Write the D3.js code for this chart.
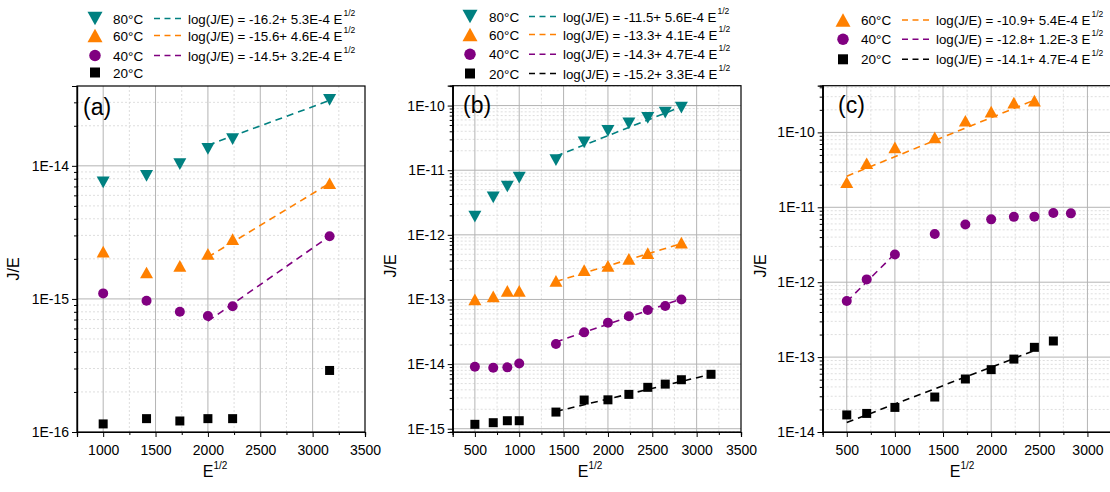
<!DOCTYPE html>
<html><head><meta charset="utf-8">
<script src="https://cdn.jsdelivr.net/npm/d3@7"></script>
<style>
body{margin:0;background:#fff;}
svg{display:block;font-family:Arial,"Liberation Sans",sans-serif;}
</style></head>
<body>
<svg id="chart" width="1110" height="492"></svg>
<script>
// ---------- DATA ----------
// Panel (a)
const xA = [1000, 1414, 1732, 2000, 2236, 3162];
const a80 = [7.5e-15, 8.4e-15, 1.03e-14, 1.34e-14, 1.59e-14, 3.13e-14];
const a60 = [2.27e-15, 1.58e-15, 1.77e-15, 2.18e-15, 2.81e-15, 7.4e-15];
const a40 = [1.10e-15, 0.97e-15, 0.80e-15, 0.745e-15, 0.88e-15, 2.96e-15];
const a20 = [1.15e-16, 1.26e-16, 1.21e-16, 1.26e-16, 1.26e-16, 2.9e-16];
const fitA80 = [[2000, 1.43e-14], [3162, 3.1e-14]];
const fitA60 = [[2000, 2.06e-15], [3162, 7.4e-15]];
const fitA40 = [[2000, 0.68e-15], [3162, 2.96e-15]];
const eqA = ["log(J/E) = -16.2+ 5.3E-4 E", "log(J/E) = -15.6+ 4.6E-4 E", "log(J/E) = -14.5+ 3.2E-4 E"];
const xTicksA = [1000, 1500, 2000, 2500, 3000, 3500];
const yTicksA = [1e-16, 1e-15, 1e-14];

// Panel (b)
const xB = [500, 707, 866, 1000, 1414, 1732, 2000, 2236, 2449, 2646, 2828];
const b80 = [1.92e-12, 3.8e-12, 5.6e-12, 7.7e-12, 1.43e-11, 2.7e-11, 4.06e-11, 5.3e-11, 6.45e-11, 7.8e-11, 9.3e-11];
const xB60 = [500, 707, 866, 1000, 1414, 1732, 2000, 2236, 2449, 2828];
const b60 = [1.0e-13, 1.12e-13, 1.36e-13, 1.36e-13, 1.94e-13, 2.84e-13, 3.3e-13, 4.25e-13, 5.2e-13, 7.6e-13];
const b40 = [9.1e-15, 8.8e-15, 8.9e-15, 1.02e-14, 2.04e-14, 3.1e-14, 4.36e-14, 5.5e-14, 6.85e-14, 7.9e-14, 1.0e-13];
const xB20 = [500, 707, 866, 1000, 1414, 1732, 2000, 2236, 2449, 2646, 2828, 3162];
const b20 = [1.17e-15, 1.24e-15, 1.33e-15, 1.33e-15, 1.81e-15, 2.78e-15, 2.8e-15, 3.4e-15, 4.37e-15, 4.9e-15, 5.73e-15, 6.95e-15];
const fitB80 = [[1414, 1.65e-11], [2828, 9.6e-11]];
const fitB60 = [[1414, 1.9e-13], [2828, 7.3e-13]];
const fitB40 = [[1414, 2.2e-14], [2828, 1.02e-13]];
const fitB20 = [[1414, 1.85e-15], [3162, 6.95e-15]];
const eqB = ["log(J/E) = -11.5+ 5.6E-4 E", "log(J/E) = -13.3+ 4.1E-4 E", "log(J/E) = -14.3+ 4.7E-4 E", "log(J/E) = -15.2+ 3.3E-4 E"];
const xTicksB = [500, 1000, 1500, 2000, 2500, 3000, 3500];
const yTicksB = [1e-15, 1e-14, 1e-13, 1e-12, 1e-11, 1e-10];

// Panel (c)
const xC60 = [500, 707, 1000, 1414, 1732, 2000, 2236, 2449];
const c60 = [2.16e-11, 3.87e-11, 6.3e-11, 8.6e-11, 1.43e-10, 1.89e-10, 2.49e-10, 2.65e-10];
const xC40 = [500, 707, 1000, 1414, 1732, 2000, 2236, 2449, 2646, 2828];
const c40 = [5.6e-13, 1.09e-12, 2.34e-12, 4.4e-12, 5.9e-12, 6.9e-12, 7.45e-12, 7.5e-12, 8.4e-12, 8.3e-12];
const xC20 = [500, 707, 1000, 1414, 1732, 2000, 2236, 2449, 2646];
const c20 = [1.69e-14, 1.77e-14, 2.13e-14, 2.93e-14, 5.1e-14, 6.8e-14, 9.4e-14, 1.35e-13, 1.64e-13];
const fitC60 = [[500, 2.6e-11], [2449, 2.7e-10]];
const fitC40 = [[500, 5.5e-13], [1000, 2.4e-12]];
const fitC20 = [[500, 1.34e-14], [2449, 1.22e-13]];
const eqC = ["log(J/E) = -10.9+ 5.4E-4 E", "log(J/E) = -12.8+ 1.2E-3 E", "log(J/E) = -14.1+ 4.7E-4 E"];
const xTicksC = [500, 1000, 1500, 2000, 2500, 3000];
const yTicksC = [1e-14, 1e-13, 1e-12, 1e-11, 1e-10];

const tempLabels = ["80°C", "60°C", "40°C", "20°C"];
const panelLabels = ["(a)", "(b)", "(c)"];
const xTitle = "E", xTitleSup = "1/2", yTitle = "J/E";

// ---------- STYLE ----------
const COL = {80: "#008080", 60: "#ff8000", 40: "#800080", 20: "#000000"};
const SHAPE = {80: "down", 60: "up", 40: "circle", 20: "square"};

function markerPath(shape, s) {
  const h = s / 2;
  if (shape === "square") return `M${-h},${-h}H${h}V${h}H${-h}Z`;
  if (shape === "circle") return `M${h},0A${h},${h} 0 1,1 ${-h},0A${h},${h} 0 1,1 ${h},0Z`;
  const th = s * 0.9;
  if (shape === "up") return `M0,${-th / 2}L${h},${th / 2}L${-h},${th / 2}Z`;
  return `M0,${th / 2}L${h},${-th / 2}L${-h},${-th / 2}Z`;
}
function msize(shape) { return shape === "square" ? 9 : shape === "circle" ? 10 : 13; }
function lsize(shape) { return shape === "square" ? 10 : shape === "circle" ? 11.5 : 15; }

const zip = (xs, ys) => xs.map((x, i) => [x, ys[i]]);

const panels = [
  { x0: 77, x1: 365, y0: 86, y1: 432, xDom: [750, 3500], yDom: [1e-16, 3.98e-14],
    xTicks: xTicksA, yTicks: yTicksA, lab: [83, 115],
    series: [[80, zip(xA, a80)], [60, zip(xA, a60)], [40, zip(xA, a40)], [20, zip(xA, a20)]],
    fits: [[80, fitA80], [60, fitA60], [40, fitA40]],
    legend: { mx: 95, tx: 113, lx0: 154, lx1: 184, ex: 188, rows: [[80, 18.5, eqA[0]], [60, 35.5, eqA[1]], [40, 55.5, eqA[2]], [20, 72.5, null]] },
    ytx: 14, yty: 269, xtx: 215 },
  { x0: 452.7, x1: 741, y0: 85.7, y1: 432, xDom: [250, 3500], yDom: [8.9e-16, 2.03e-10],
    xTicks: xTicksB, yTicks: yTicksB, lab: [463, 113],
    series: [[80, zip(xB, b80)], [60, zip(xB60, b60)], [40, zip(xB, b40)], [20, zip(xB20, b20)]],
    fits: [[80, fitB80], [60, fitB60], [40, fitB40], [20, fitB20]],
    legend: { mx: 470, tx: 489, lx0: 529, lx1: 560, ex: 563, rows: [[80, 16.5, eqB[0]], [60, 34.5, eqB[1]], [40, 54.2, eqB[2]], [20, 73.5, eqB[3]]] },
    ytx: 391, yty: 266, xtx: 590 },
  { x0: 822.7, x1: 1111.5, y0: 85.7, y1: 432, xDom: [250, 3250], yDom: [1e-14, 4.2e-10],
    xTicks: xTicksC, yTicks: yTicksC, lab: [838, 113],
    series: [[60, zip(xC60, c60)], [40, zip(xC40, c40)], [20, zip(xC20, c20)]],
    fits: [[60, fitC60], [40, fitC40], [20, fitC20]],
    legend: { mx: 843, tx: 861, lx0: 902, lx1: 933, ex: 936, rows: [[60, 20, eqC[0]], [40, 39.3, eqC[1]], [20, 59.3, eqC[2]]] },
    ytx: 761, yty: 266, xtx: 962 }
];

const svg = d3.select("#chart");

panels.forEach((p, pi) => {
  const x = d3.scaleLinear().domain(p.xDom).range([p.x0, p.x1]);
  const y = d3.scaleLog().domain(p.yDom).range([p.y1, p.y0]);
  const g = svg.append("g");

  // minor grid / ticks
  const xMinor = [];
  for (let v = p.xDom[0]; v <= p.xDom[1] + 1e-6; v += 250) if (!p.xTicks.includes(v)) xMinor.push(v);
  const yMinor = [];
  const e0 = Math.floor(Math.log10(p.yDom[0])), e1 = Math.ceil(Math.log10(p.yDom[1]));
  for (let e = e0; e <= e1; e++) for (let k = 2; k <= 9; k++) {
    const v = k * Math.pow(10, e);
    if (v > p.yDom[0] * 1.0001 && v < p.yDom[1] * 0.9999) yMinor.push(v);
  }
  g.selectAll(".xmg").data(xMinor.filter(v => v > p.xDom[0] && v < p.xDom[1])).join("line")
    .attr("x1", d => x(d)).attr("x2", d => x(d)).attr("y1", p.y0).attr("y2", p.y1)
    .attr("stroke", "#d6d6d6").attr("stroke-width", 0.8).attr("stroke-dasharray", "2,2");
  g.selectAll(".ymg").data(yMinor).join("line")
    .attr("x1", p.x0).attr("x2", p.x1).attr("y1", d => y(d)).attr("y2", d => y(d))
    .attr("stroke", "#d6d6d6").attr("stroke-width", 0.8).attr("stroke-dasharray", "2,2");
  // major grid
  g.selectAll(".xg").data(p.xTicks.filter(v => v < p.xDom[1])).join("line")
    .attr("x1", d => x(d)).attr("x2", d => x(d)).attr("y1", p.y0).attr("y2", p.y1)
    .attr("stroke", "#b4b4b4").attr("stroke-width", 1);
  g.selectAll(".yg").data(p.yTicks.filter(v => v > p.yDom[0])).join("line")
    .attr("x1", p.x0).attr("x2", p.x1).attr("y1", d => y(d)).attr("y2", d => y(d))
    .attr("stroke", "#b4b4b4").attr("stroke-width", 1);

  // frame
  g.append("rect").attr("x", p.x0).attr("y", p.y0).attr("width", p.x1 - p.x0).attr("height", p.y1 - p.y0)
    .attr("fill", "none").attr("stroke", "#000").attr("stroke-width", 1.2);

  // axes
  const xAxis = d3.axisBottom(x).tickValues(p.xTicks).tickSize(5).tickFormat(d3.format("d"));
  const xg = g.append("g").attr("transform", `translate(0,${p.y1})`).call(xAxis);
  g.append("g").attr("transform", `translate(0,${p.y1})`)
    .call(d3.axisBottom(x).tickValues(xMinor).tickSize(3).tickFormat(""));
  const yAxis = d3.axisLeft(y).tickValues(p.yTicks).tickSize(5).tickFormat(d => "1E" + Math.round(Math.log10(d)));
  const yg = g.append("g").attr("transform", `translate(${p.x0},0)`).call(yAxis);
  g.append("g").attr("transform", `translate(${p.x0},0)`)
    .call(d3.axisLeft(y).tickValues(yMinor).tickSize(3).tickFormat(""));
  g.selectAll(".domain").attr("stroke", "#000").attr("stroke-width", 1.2);
  g.selectAll(".tick line").attr("stroke", "#000");
  xg.selectAll("text").attr("font-size", 14).attr("fill", "#000").attr("dy", "1.05em")
    .attr("font-family", "Arial, 'Liberation Sans', sans-serif");
  yg.selectAll("text").attr("font-size", 14).attr("fill", "#000").attr("x", -8)
    .attr("font-family", "Arial, 'Liberation Sans', sans-serif");

  // axis titles
  const xt = g.append("text").attr("x", p.xtx).attr("y", 477).attr("text-anchor", "middle")
    .attr("font-size", 16).attr("fill", "#000");
  xt.append("tspan").text(xTitle);
  xt.append("tspan").attr("font-size", 10).attr("dy", -8).text(xTitleSup);
  g.append("text").attr("transform", `translate(${p.ytx + 5},${p.yty}) rotate(-90)`)
    .attr("text-anchor", "middle").attr("font-size", 16).attr("fill", "#000").text(yTitle);

  // panel label
  g.append("text").attr("x", p.lab[0]).attr("y", p.lab[1]).attr("font-size", 23).attr("fill", "#000")
    .text(panelLabels[pi]);

  // fit lines
  const line = d3.line().x(d => x(d[0])).y(d => y(d[1]));
  p.fits.forEach(([t, pts]) => {
    g.append("path").attr("d", line(pts)).attr("fill", "none").attr("stroke", COL[t])
      .attr("stroke-width", 1.6).attr("stroke-dasharray", "7,5");
  });

  // markers
  p.series.forEach(([t, pts]) => {
    g.selectAll(null).data(pts).join("path")
      .attr("transform", d => `translate(${x(d[0])},${y(d[1])})`)
      .attr("d", markerPath(SHAPE[t], msize(SHAPE[t])))
      .attr("fill", COL[t]);
  });

  // legend
  const L = p.legend;
  L.rows.forEach(([t, ry, eq]) => {
    g.append("path").attr("transform", `translate(${L.mx},${ry})`)
      .attr("d", markerPath(SHAPE[t], lsize(SHAPE[t]))).attr("fill", COL[t]);
    g.append("text").attr("x", L.tx).attr("y", ry + 5).attr("font-size", 13.5).attr("fill", "#000").text(tempLabels[[80, 60, 40, 20].indexOf(t)]);
    if (eq) {
      g.append("line").attr("x1", L.lx0).attr("x2", L.lx1).attr("y1", ry).attr("y2", ry)
        .attr("stroke", COL[t]).attr("stroke-width", 1.6).attr("stroke-dasharray", "6,4.5");
      const et = g.append("text").attr("x", L.ex).attr("y", ry + 5).attr("font-size", 13.3).attr("fill", "#000");
      et.append("tspan").text(eq);
      et.append("tspan").attr("font-size", 8.5).attr("dy", -8).attr("dx", 1).text(xTitleSup);
    }
  });
});
</script>
</body></html>
